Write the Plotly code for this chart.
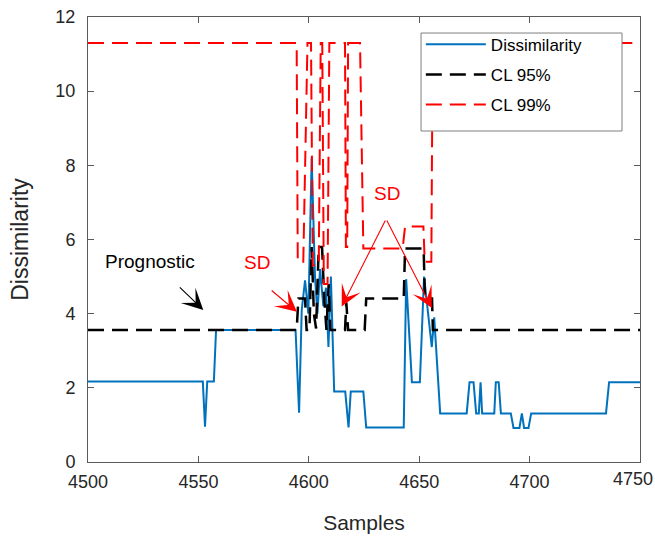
import plotly.graph_objects as go

# ---- data ----
diss_x = [4500, 4552, 4553, 4554, 4557, 4558, 4594, 4595.6, 4596.8, 4598.3, 4599.8, 4601.3,
          4602.8, 4603.9, 4605.1, 4606.6, 4607.8, 4608.9, 4610.0, 4611.5, 4616.5, 4618.0,
          4619.0, 4624.7, 4626.0, 4643.0, 4644.1, 4646.7, 4650.3, 4652.2, 4655.7, 4656.8,
          4659.5, 4671.5, 4672.8, 4674.6, 4675.8, 4677.0, 4677.8, 4678.5, 4684.0, 4684.7,
          4686.0, 4687.0, 4691.5, 4692.7, 4695.4, 4696.5, 4697.5, 4699.5, 4700.7, 4734.6,
          4736.0, 4750]
diss_y = [2.17, 2.17, 0.95, 2.17, 2.17, 3.56, 3.56, 1.33, 4.1, 4.9, 4.0, 8.2,
          5.0, 4.0, 5.2, 4.2, 4.7, 3.1, 5.0, 1.9, 1.9, 0.93,
          1.9, 1.9, 0.93, 0.93, 4.93, 2.15, 2.15, 5.0, 3.1, 3.9,
          1.31, 1.31, 2.15, 2.15, 1.31, 1.31, 2.15, 1.31, 1.31, 2.15,
          2.15, 1.31, 1.31, 0.92, 0.92, 1.31, 0.92, 0.92, 1.31, 1.31,
          2.15, 2.15]

cl95_x = [4500, 4594.5, 4595.3, 4598.3, 4599.0, 4600.3, 4601.3, 4602.3, 4603.3, 4604.5,
          4606.0, 4607.0, 4608.0, 4609.0, 4609.8, 4616.4, 4617.0, 4617.8, 4625.3, 4626.0,
          4643.0, 4643.6, 4652.0, 4652.6, 4655.8, 4656.2, 4750]
cl95_y = [3.56, 3.56, 4.41, 4.41, 3.56, 3.56, 5.8, 4.0, 3.6, 5.8,
          5.8, 4.4, 3.56, 4.8, 3.56, 3.56, 4.3, 3.56, 3.56, 4.41,
          4.41, 5.76, 5.76, 4.41, 4.41, 3.56, 3.56]

cl99_x = [4500, 4594.5, 4595.0, 4597.5, 4599.4, 4601.0, 4601.8, 4604.5, 4605.4, 4606.1,
          4606.8, 4608.5, 4609.3, 4616.4, 4616.8, 4617.4, 4617.8, 4623.2, 4624.7, 4642.5,
          4643.6, 4651.9, 4652.5, 4655.5, 4656.1, 4750]
cl99_y = [11.3, 11.3, 5.4, 5.4, 11.3, 11.3, 5.3, 5.3, 11.3, 11.3,
          4.8, 4.8, 11.3, 11.3, 5.8, 5.8, 11.3, 11.3, 5.76, 5.76,
          6.35, 6.35, 5.4, 5.4, 11.3, 11.3]

x_ticks = [4500, 4550, 4600, 4650, 4700, 4750]
x_ticktext = ["4500", "4550", "4600", "4650", "4700", ""]   # last one drawn as annotation
y_ticks = [0, 2, 4, 6, 8, 10, 12]

FONT = "Liberation Sans, Arial, Helvetica, sans-serif"
DASH = "16px,8px"

fig = go.Figure()
fig.add_trace(go.Scatter(x=diss_x, y=diss_y, mode="lines", name="Dissimilarity",
                         legendgroup="a", line=dict(color="#0072BD", width=2)))
fig.add_trace(go.Scatter(x=cl95_x, y=cl95_y, mode="lines", name="CL 95%",
                         legendgroup="b", line=dict(color="#000000", width=2.5, dash=DASH)))
fig.add_trace(go.Scatter(x=cl99_x, y=cl99_y, mode="lines", name="CL 99%",
                         legendgroup="c", line=dict(color="#FF0000", width=2, dash=DASH)))

# last x tick label, kept fully inside the picture
fig.add_annotation(x=x_ticks[-1], xref="x", y=0, yref="paper", text="4750", showarrow=False,
                   xanchor="right", xshift=15, yanchor="middle", yshift=-17,
                   font=dict(family=FONT, size=18, color="#262626"))

# annotations: texts
fig.add_annotation(x=4528.1, y=5.4, text="Prognostic", showarrow=False,
                   font=dict(family=FONT, size=19, color="black"))
fig.add_annotation(x=4576.4, y=5.39, text="SD", showarrow=False,
                   font=dict(family=FONT, size=19, color="red"))
fig.add_annotation(x=4635.3, y=7.25, text="SD", showarrow=False,
                   font=dict(family=FONT, size=19, color="red"))

# arrows
def arrow(x0, y0, x1, y1, color):
    fig.add_annotation(x=x1, y=y1, ax=x0, ay=y0, xref="x", yref="y", axref="x", ayref="y",
                       text="", showarrow=True, arrowhead=3, arrowsize=3.2, arrowwidth=1.1,
                       arrowcolor=color)

arrow(4540.9, 4.75, 4552.2, 4.1, "black")
arrow(4582.5, 4.66, 4594.6, 4.05, "red")
arrow(4635.0, 6.55, 4614.9, 4.19, "red")
arrow(4635.0, 6.55, 4655.7, 4.15, "red")

# legend frame (white box behind the legend entries)
fig.add_shape(type="rect", xref="paper", yref="paper", x0=0.6033, x1=0.9674,
              y0=0.7438, y1=0.964, fillcolor="white", line=dict(color="#7f7f7f", width=1),
              layer="above")

axis_common = dict(showgrid=False, zeroline=False, showline=True, linecolor="#5a5a5a",
                   linewidth=1, mirror="allticks", ticks="inside", ticklen=6, automargin=False,
                   tickcolor="#5a5a5a", tickfont=dict(family=FONT, size=18, color="#262626"))

fig.update_xaxes(range=[4500, 4750], tickvals=x_ticks, ticktext=x_ticktext,
                 ticklabelstandoff=3,
                 title=dict(text="Samples", font=dict(family=FONT, size=21, color="#262626"),
                            standoff=24),
                 **axis_common)
fig.update_yaxes(range=[0, 12], tickvals=y_ticks, ticklabelstandoff=8,
                 title=dict(text="Dissimilarity", font=dict(family=FONT, size=23, color="#262626"),
                            standoff=20),
                 **axis_common)

fig.update_layout(
    width=655, height=542,
    margin=dict(l=88, r=15, t=17, b=80),
    plot_bgcolor="white", paper_bgcolor="white",
    showlegend=True,
    legend=dict(x=0.603, y=0.978, xanchor="left", yanchor="top",
                bgcolor="rgba(0,0,0,0)", borderwidth=0,
                font=dict(family=FONT, size=17, color="black"),
                itemwidth=60, tracegroupgap=5),
)

fig.write_html("out.html")
